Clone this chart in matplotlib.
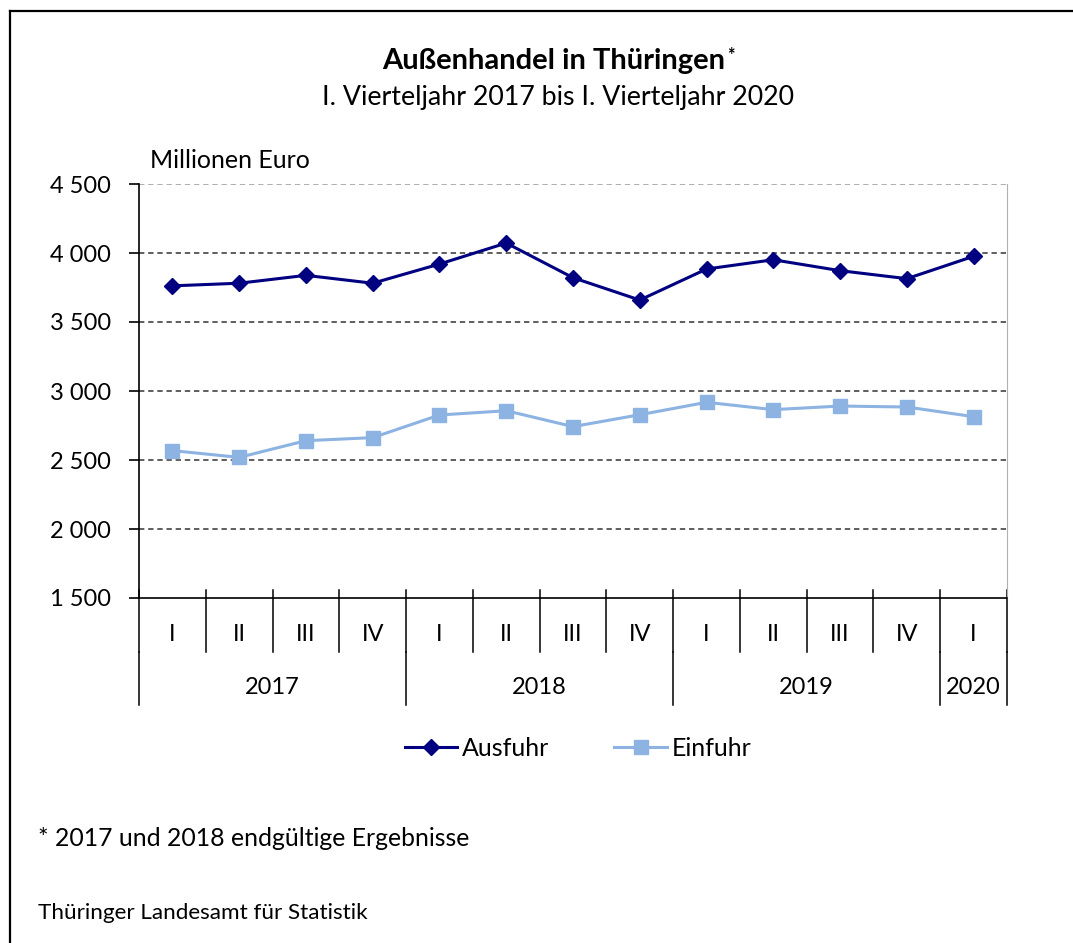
import matplotlib
matplotlib.use("Agg")
import matplotlib.pyplot as plt
from matplotlib.lines import Line2D
import matplotlib.transforms as mtransforms

plt.rcParams['font.family'] = ['Lato', 'DejaVu Sans']

# Quartalswerte in Millionen Euro
quarters = ["I", "II", "III", "IV", "I", "II", "III", "IV", "I", "II", "III", "IV", "I"]
years = ["2017", "2018", "2019", "2020"]
year_len = [4, 4, 4, 1]
ausfuhr = [3762, 3781, 3838, 3781, 3920, 4072, 3821, 3659, 3884, 3951, 3872, 3814, 3976]
einfuhr = [2568, 2519, 2640, 2662, 2826, 2857, 2742, 2828, 2918, 2865, 2891, 2884, 2814]
yticks = [1500, 2000, 2500, 3000, 3500, 4000, 4500]

W, H = 1073, 943
fig = plt.figure(figsize=(W / 100, H / 100), dpi=100)
ax = fig.add_axes([139 / W, 1 - 598 / H, (1007 - 139) / W, (598 - 184) / H])

x = list(range(len(quarters)))
ax.plot(x, ausfuhr, color="#000080", lw=2.2, marker="D", ms=8, label="Ausfuhr", zorder=3)
ax.plot(x, einfuhr, color="#8DB3E2", lw=2.2, marker="s", ms=10, label="Einfuhr", zorder=3)

ax.set_xlim(-0.5, len(quarters) - 0.5)
ax.set_ylim(1500, 4500)
ax.set_yticks(yticks)
ax.set_yticklabels([f"{v:,}".replace(",", " ") for v in yticks])
ax.set_xticks([])
ax.tick_params(axis="y", direction="out", length=7, width=1.2, pad=13, labelsize=17, colors="black")

ax.grid(axis="y", color="#333333", ls=(0, (3.5, 2.5)), lw=1.1)
ax.get_ygridlines()[-1].set_color("#999999")
ax.get_ygridlines()[0].set_visible(False)
ax.spines["top"].set_visible(False)
ax.spines["right"].set_color("#b0b0b0")
ax.spines["left"].set_linewidth(1.2)
ax.spines["bottom"].set_linewidth(1.2)

# Kategorienachse mit Quartalen und Jahren
trans = mtransforms.blended_transform_factory(ax.transData, ax.transAxes)
for i, q in enumerate(quarters):
    ax.text(i, -0.087, q, transform=trans, ha="center", va="center", fontsize=17)
for b in range(len(quarters) + 1):
    ax.plot([b - 0.5, b - 0.5], [0.02, -0.13], transform=trans, color="black", lw=1.1, clip_on=False)
start = 0
edges = [0]
for name, n in zip(years, year_len):
    ax.text(start + n / 2 - 0.5, -0.217, name, transform=trans, ha="center", va="center", fontsize=17)
    start += n
    edges.append(start)
for e in edges:
    ax.plot([e - 0.5, e - 0.5], [-0.13, -0.258], transform=trans, color="black", lw=1.1, clip_on=False)

ax.text(150 / W, 1 - 160 / H, "Millionen Euro", transform=fig.transFigure, ha="left", va="center", fontsize=18)

t = fig.text(554 / W, 1 - 61 / H, "Außenhandel in Thüringen", ha="center", va="center",
             fontsize=21, fontweight="bold")
ax.annotate("*", xy=(1.0, 1.0), xycoords=t, xytext=(1, 1), textcoords="offset points",
            ha="left", va="top", fontsize=13, fontweight="bold", annotation_clip=False)
fig.text(558 / W, 1 - 98 / H, "I. Vierteljahr 2017 bis I. Vierteljahr 2020", ha="center", va="center",
         fontsize=19.3)

fig.legend(loc="center", bbox_to_anchor=(578 / W, 1 - 748 / H), ncol=2, frameon=False,
           fontsize=18, handlelength=2.1, handletextpad=0.2, columnspacing=2.6)

fig.text(38 / W, 1 - 838 / H, "* 2017 und 2018 endgültige Ergebnisse", ha="left", va="center", fontsize=17.8)
fig.text(38 / W, 1 - 913 / H, "Thüringer Landesamt für Statistik", ha="left", va="center", fontsize=16.2)

# Rahmen oben und links
fig.add_artist(Line2D([10 / W, 1], [1 - 11 / H, 1 - 11 / H], color="black", lw=1.6))
fig.add_artist(Line2D([10 / W, 10 / W], [0, 1 - 11 / H], color="black", lw=1.6))

fig.savefig("out.png", dpi=100, facecolor="white")
